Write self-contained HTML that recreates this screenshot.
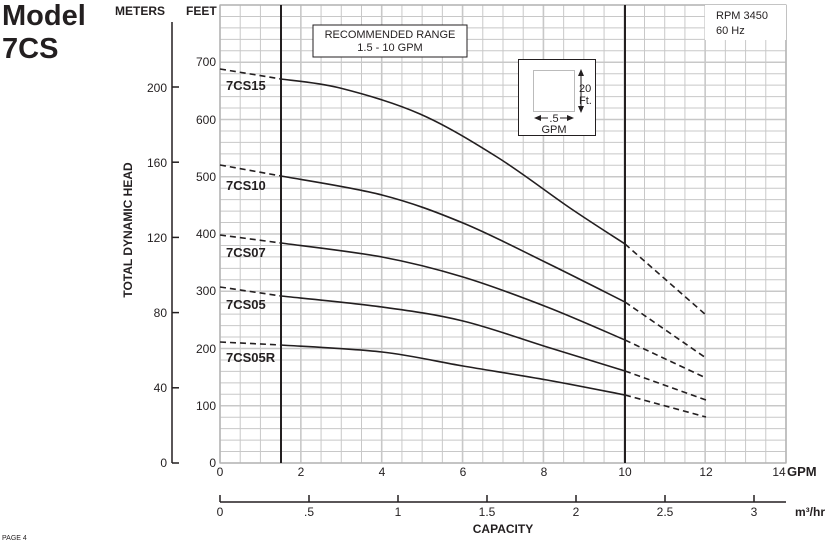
<!DOCTYPE html>
<html><head><meta charset="utf-8"><style>
html,body{margin:0;padding:0;background:#fff;width:838px;height:540px;overflow:hidden}
svg{display:block}
text{font-family:"Liberation Sans",sans-serif;fill:#231f20}
</style></head><body>
<svg id="s" width="838" height="540" xmlns="http://www.w3.org/2000/svg">
<g id="grid"></g>
<text x="2" y="25" font-size="29" font-weight="bold">Model</text>
<text x="2" y="58" font-size="29" font-weight="bold">7CS</text>
<text x="115" y="15" font-size="12" font-weight="bold">METERS</text>
<text x="186" y="15" font-size="12" font-weight="bold">FEET</text>
<line x1="172" y1="22" x2="172" y2="463" stroke="#231f20" stroke-width="1.5"/>
<g stroke="#231f20" stroke-width="1.5">
<line x1="172" y1="463" x2="179" y2="463"/><line x1="172" y1="387.8" x2="179" y2="387.8"/>
<line x1="172" y1="312.6" x2="179" y2="312.6"/><line x1="172" y1="237.4" x2="179" y2="237.4"/>
<line x1="172" y1="162.2" x2="179" y2="162.2"/><line x1="172" y1="87" x2="179" y2="87"/>
</g>
<g font-size="12" text-anchor="end">
<text x="167" y="467">0</text><text x="167" y="392">40</text><text x="167" y="317">80</text>
<text x="167" y="242">120</text><text x="167" y="167">160</text><text x="167" y="92">200</text>
<text x="216" y="467">0</text><text x="216" y="410">100</text><text x="216" y="353">200</text>
<text x="216" y="295">300</text><text x="216" y="238">400</text><text x="216" y="181">500</text>
<text x="216" y="124">600</text><text x="216" y="66">700</text>
</g>
<text transform="translate(132,230) rotate(-90)" font-size="12" font-weight="bold" text-anchor="middle">TOTAL DYNAMIC HEAD</text>
<rect x="705" y="5" width="81" height="35" fill="#fff"/>
<text x="716" y="19" font-size="11">RPM 3450</text>
<text x="716" y="34" font-size="11">60 Hz</text>
<rect x="313" y="25" width="154" height="32" fill="#fff" stroke="#231f20" stroke-width="1"/>
<text x="390" y="38" font-size="11" text-anchor="middle">RECOMMENDED RANGE</text>
<text x="390" y="51" font-size="11" text-anchor="middle">1.5 - 10 GPM</text>
<rect x="518.5" y="59.5" width="77" height="76" fill="#fff" stroke="#231f20" stroke-width="1"/>
<rect x="533.5" y="70.5" width="41" height="41" fill="#fff" stroke="#bbb" stroke-width="1"/>
<line x1="581" y1="72" x2="581" y2="110" stroke="#231f20"/>
<polygon points="578,76 581,69 584,76" fill="#231f20"/>
<polygon points="578,106 581,113 584,106" fill="#231f20"/>
<text x="579" y="92" font-size="11">20</text><text x="579" y="104" font-size="11">Ft.</text>
<line x1="537" y1="118" x2="571" y2="118" stroke="#231f20"/>
<polygon points="541,115 534,118 541,121" fill="#231f20"/>
<polygon points="567,115 574,118 567,121" fill="#231f20"/>
<rect x="548" y="113" width="12" height="8" fill="#fff"/>
<text x="554" y="122" font-size="11" text-anchor="middle">.5</text>
<text x="554" y="133" font-size="11" text-anchor="middle">GPM</text>
<line x1="281" y1="5" x2="281" y2="463" stroke="#231f20" stroke-width="2"/>
<line x1="625" y1="5" x2="625" y2="463" stroke="#231f20" stroke-width="2"/>
<g id="curves" fill="none" stroke="#231f20" stroke-width="1.6"></g>
<g font-size="13" font-weight="bold">
<text x="226" y="90">7CS15</text><text x="226" y="190">7CS10</text><text x="226" y="257">7CS07</text>
<text x="226" y="309">7CS05</text><text x="226" y="362">7CS05R</text>
</g>
<g font-size="12" text-anchor="middle">
<text x="220" y="476">0</text><text x="301" y="476">2</text><text x="382" y="476">4</text>
<text x="463" y="476">6</text><text x="544" y="476">8</text><text x="625" y="476">10</text>
<text x="706" y="476">12</text><text x="779" y="476">14</text>
</g>
<text x="787" y="476" font-size="13" font-weight="bold">GPM</text>
<line x1="220" y1="502" x2="786" y2="502" stroke="#231f20" stroke-width="1.5"/>
<g stroke="#231f20" stroke-width="1.5" id="mt"></g>
<g font-size="12" text-anchor="middle">
<text x="220" y="516">0</text><text x="309" y="516">.5</text><text x="398" y="516">1</text>
<text x="487" y="516">1.5</text><text x="576" y="516">2</text><text x="665" y="516">2.5</text><text x="754" y="516">3</text>
</g>
<text x="795" y="516" font-size="12" font-weight="bold">m³/hr</text>
<text x="503" y="533" font-size="12" font-weight="bold" text-anchor="middle">CAPACITY</text>
<text x="2" y="540" font-size="7">PAGE 4</text>
</svg>
<script>
var NS="http://www.w3.org/2000/svg";
function el(p,n,a){var e=document.createElementNS(NS,n);for(var k in a)e.setAttribute(k,a[k]);p.appendChild(e);return e;}
var g=document.getElementById('grid');
el(g,'rect',{x:220,y:5,width:566,height:458,fill:'#fff'});
for(var i=0;i<=28;i++){var x=220+i*566/28;el(g,'line',{x1:x,y1:5,x2:x,y2:463,stroke:'#c8c8c8','stroke-width':(i%4==0?1.6:1)});}
for(var j=0;j<=40;j++){var y=463-j*458/40;el(g,'line',{x1:220,y1:y,x2:786,y2:y,stroke:'#c8c8c8','stroke-width':(j%5==0?1.6:1)});}
el(g,'rect',{x:220,y:5,width:566,height:458,fill:'none',stroke:'#b0b0b0','stroke-width':1.2});
var mt=document.getElementById('mt');
[220,309,398,487,576,665,754].forEach(function(x){el(mt,'line',{x1:x,y1:495,x2:x,y2:502});});
function cr(p){var d='M'+p[0][0]+','+p[0][1];for(var i=0;i<p.length-1;i++){var p0=p[i-1]||p[i],p1=p[i],p2=p[i+1],p3=p[i+2]||p2;
d+=' C'+(p1[0]+(p2[0]-p0[0])/6)+','+(p1[1]+(p2[1]-p0[1])/6)+' '+(p2[0]-(p3[0]-p1[0])/6)+','+(p2[1]-(p3[1]-p1[1])/6)+' '+p2[0]+','+p2[1];}return d;}
var C=document.getElementById('curves');
var data=[
[[220,69],[281,79],[340,88],[420,114],[497,157],[570,208],[625,244],[706,315]],
[[220,165],[281,176],[382,195],[463,223],[547,263],[625,302],[706,358]],
[[220,235],[281,243],[382,257],[463,277],[547,307],[625,340],[706,378]],
[[220,287],[281,296],[382,307],[463,321],[547,347],[625,371],[706,400]],
[[220,342],[281,345],[382,352],[463,366],[547,380],[625,395],[706,417]]];
data.forEach(function(p){
el(C,'line',{x1:p[0][0],y1:p[0][1],x2:p[1][0],y2:p[1][1],'stroke-dasharray':'6,4'});
var n=p.length;
el(C,'line',{x1:p[n-2][0],y1:p[n-2][1],x2:p[n-1][0],y2:p[n-1][1],'stroke-dasharray':'6,4'});
el(C,'path',{d:cr(p.slice(1,n-1))});
});
</script>
</body></html>
